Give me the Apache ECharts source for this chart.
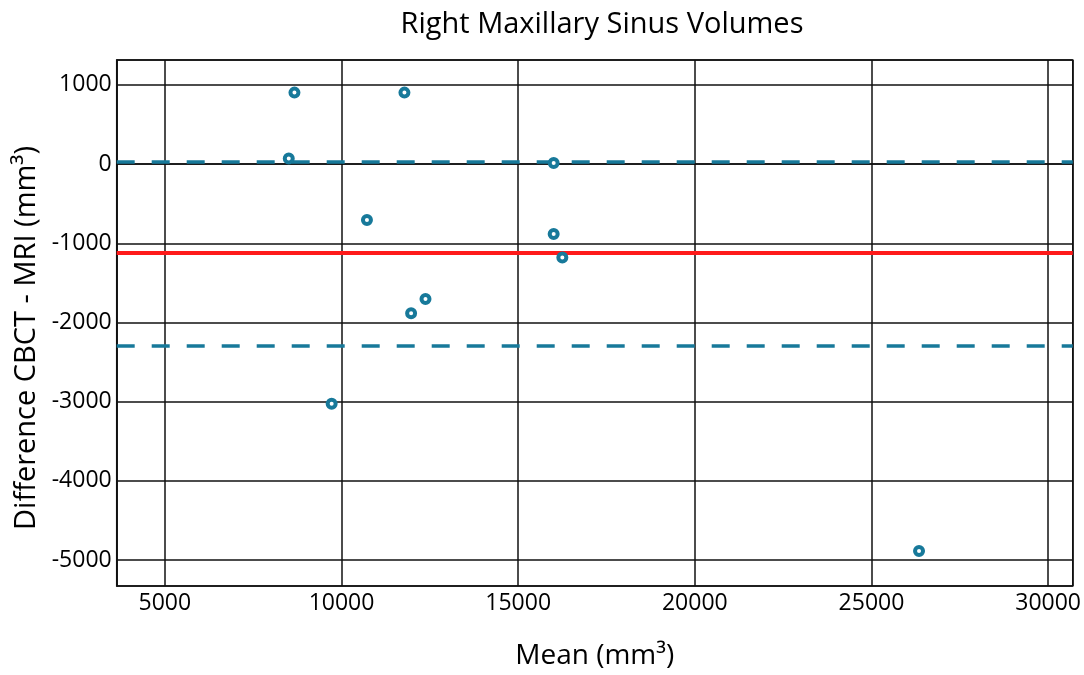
<!DOCTYPE html>
<html>
<head>
<meta charset="utf-8">
<script src="https://cdn.jsdelivr.net/npm/echarts@6/dist/echarts.min.js"></script>
<style>
html,body{margin:0;padding:0;background:#fff;overflow:hidden;}
#c{width:1084px;height:675px;}
</style>
</head>
<body>
<div id="c"></div>
<script>
// Data
const meanVolumes = [8668, 8507, 11781, 10720, 11970, 12377, 16005, 16005, 16250, 9721, 26346];
const differences = [903, 71, 903, -706, -1884, -1703, 13, -883, -1178, -3027, -4887];
const biasMean = -1120;
const upperLimit = 30;
const lowerLimit = -2295;
const xRange = [3637, 30697];
const yRange = [-5328, 1315];

const teal = '#17799a';
const points = meanVolumes.map((m, i) => [m, differences[i]]);

const chart = echarts.init(document.getElementById('c'), null, {renderer: 'canvas', width: 1084, height: 675});
const font = 'Open Sans';
chart.setOption({
  animation: false,
  backgroundColor: '#fff',
  title: {
    text: 'Right Maxillary Sinus Volumes',
    left: 597, top: 5, textAlign: 'center',
    textStyle: {fontFamily: font, fontSize: 29, fontWeight: 'normal', color: '#000'}
  },
  grid: {left: 116.7, width: 959, top: 60, height: 526.7, show: true, borderColor: '#111', borderWidth: 1.5, backgroundColor: 'transparent'},
  xAxis: {
    type: 'value', min: xRange[0], max: xRange[1], splitNumber: 5,
    name: 'Mean (mm³)', nameLocation: 'middle', nameGap: 56,
    nameTextStyle: {fontFamily: font, fontSize: 28, color: '#000'},
    axisLine: {show: true, lineStyle: {color: '#111', width: 1.5}},
    axisTick: {show: false},
    axisLabel: {showMinLabel: false, showMaxLabel: false, fontFamily: font, fontSize: 23, color: '#000', margin: 6,
      formatter: v => String(v)},
    splitLine: {show: true, lineStyle: {color: '#111', width: 1.5}}
  },
  yAxis: {
    type: 'value', min: yRange[0], max: yRange[1], splitNumber: 6,
    name: 'Difference CBCT - MRI (mm³)', nameLocation: 'middle', nameGap: 62,
    nameTextStyle: {fontFamily: font, fontSize: 29, color: '#000', padding: [0, 30, 0, 0]},
    axisLine: {show: true, lineStyle: {color: '#111', width: 1.5}},
    axisTick: {show: false},
    axisLabel: {showMinLabel: false, showMaxLabel: false, fontFamily: font, fontSize: 23, color: '#000', margin: 5,
      formatter: v => String(v)},
    splitLine: {show: true, lineStyle: {color: '#111', width: 1.5}}
  },
  series: [
    {
      type: 'line', data: [], silent: true,
      markLine: {
        silent: true, symbol: 'none', label: {show: false}, animation: false,
        data: [
          {yAxis: upperLimit, lineStyle: {color: teal, width: 3.5, type: [18, 17]}},
          {yAxis: lowerLimit, lineStyle: {color: teal, width: 3.5, type: [18, 17]}},
          {yAxis: biasMean, lineStyle: {color: '#ff1a1a', width: 4, type: 'solid'}}
        ]
      },
      z: 3
    },
    {
      type: 'scatter', data: points, symbol: 'circle', symbolSize: 8,
      itemStyle: {color: '#fff', borderColor: teal, borderWidth: 4, opacity: 1},
      z: 5
    }
  ]
});
</script>
</body>
</html>
